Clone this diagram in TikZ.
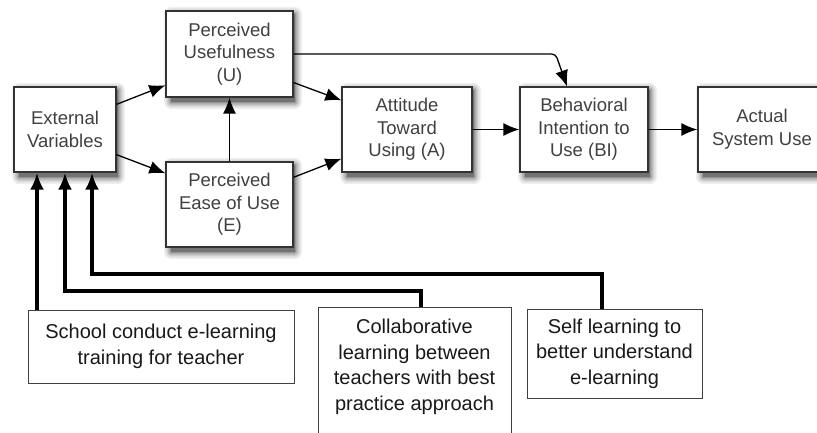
\documentclass[tikz,border=0pt]{standalone}
\usepackage{fontspec}
\setmainfont{Liberation Sans}
\usepackage{tikz}
\usetikzlibrary{arrows.meta,backgrounds}

\tikzset{
  tam/.style={draw=black!80, line width=1.3pt, fill=white, text=black!75,
    align=center, inner sep=2pt, font=\fontsize{18.5}{22.7}\selectfont},
  factor/.style={draw=black!75, line width=0.9pt, fill=white, text=black!90,
    align=center, inner sep=2pt, font=\fontsize{20}{25.5}\selectfont},
  link/.style={line width=1.3pt, -{Latex[length=16pt,width=13pt]}},
  feed/.style={line width=4pt, miter limit=4, -{Latex[length=17pt,width=14pt]}},
}

\begin{document}
\begin{tikzpicture}[x=1pt,y=-1pt]
\useasboundingbox (0,0) rectangle (817,433);
\clip (0,0) rectangle (817,433);

% TAM boxes
\node[tam, minimum width=102pt, minimum height=85pt] (ext) at (65,129.5) {External\\Variables};
\node[tam, minimum width=127pt, minimum height=86pt] (pu) at (229.5,54) {Perceived\\Usefulness\\(U)};
\node[tam, minimum width=127pt, minimum height=85pt] (pe) at (229.5,204.5) {Perceived\\Ease of Use\\(E)};
\node[tam, minimum width=130pt, minimum height=85pt] (att) at (407,129.5) {Attitude\\Toward\\Using (A)};
\node[tam, minimum width=128pt, minimum height=85pt] (bi) at (584,129.5) {Behavioral\\Intention to\\Use (BI)};
\node[tam, minimum width=128pt, minimum height=85pt] (use) at (762,129.5) {Actual\\System Use};

% Soft shadows under the TAM boxes
\begin{scope}[on background layer]
\foreach \n in {ext,pu,pe,att,bi,use} {
  \foreach \e/\c in {7.5/6,6/12,4.5/20,3/30,1.5/42,0/55} {
    \fill[black!\c, rounded corners=\e pt]
      ([xshift=6pt-\e pt, yshift=-4pt+\e pt]\n.north west) rectangle
      ([xshift=1pt+\e pt, yshift=-4pt-\e pt]\n.south east);
  }
}
\end{scope}

% TAM links
\draw[link] (ext.26) -- (pu.206);
\draw[link] (ext.-26) -- (pe.154);
\draw[link] (pu.-24) -- (att.156);
\draw[link] (pe.23) -- (att.204);
\draw[link] (pe) -- (pu);
\foreach \a/\b in {att/bi, bi/use} {
  \draw[link] (\a) -- (\b);
}
\draw[link, rounded corners=4pt] (pu.east) -- ++(262,0) coordinate (bend) -- ([xshift=-17pt]bi.north);

% Factors feeding the external variables
\node[factor, minimum width=266pt, minimum height=73pt] (school) at (161,346.5) {School conduct e-learning\\training for teacher};
\node[factor, minimum width=193pt, minimum height=140pt, text depth=25pt, anchor=north] (collab) at (414.5,307) {Collaborative\\learning between\\teachers with best\\practice approach};
\node[factor, minimum width=175pt, minimum height=89pt] (self) at (614.5,353.5) {Self learning to\\better understand\\e-learning};

\coordinate (e1) at ([xshift=-28pt]ext.south);
\coordinate (e2) at (ext.south);
\coordinate (e3) at ([xshift=27pt]ext.south);
\path (e2) ++(0,118) coordinate (j2);
\path (e3) ++(0,101) coordinate (j3);

\draw[feed] (school.north -| e1) -- (e1);
\draw[feed] ([xshift=6.5pt]collab.north) |- (j2) -- (e2);
\draw[feed] ([xshift=-12.5pt]self.north) |- (j3) -- (e3);

\end{tikzpicture}
\end{document}
